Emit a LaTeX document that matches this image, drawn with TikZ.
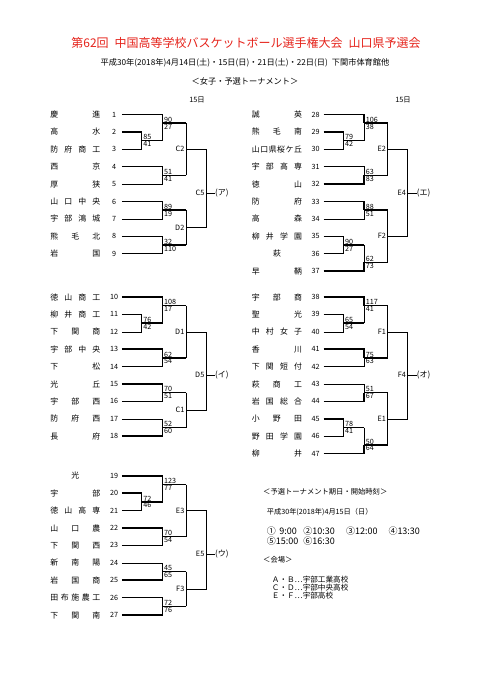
\documentclass[tikz,border=0pt]{standalone}
\usepackage{fontspec}
\setmainfont{Noto Sans CJK JP}
\usepackage{xcolor}
\definecolor{titlered}{HTML}{E5231B}
\usepackage{tikz}
\usetikzlibrary{positioning}
\newcommand{\nm}[1]{\hbox to 50pt{#1}}
\newcommand{\feed}[2]{\draw[win] (#1) -- (#1 -| #2); \draw[lose] (#1 -| #2) -- (#2);}

\begin{document}
\begin{tikzpicture}[x=1pt,y=-1pt,
  tname/.style={font=\fontsize{7.9}{9}\selectfont,inner sep=0pt},
  tnum/.style={font=\fontsize{7.2}{8}\selectfont,inner sep=0pt,minimum width=15.5pt},
  score/.style={font=\fontsize{7.2}{8}\selectfont,inner sep=0.6pt,xshift=0.8pt},
  hi/.style={score,anchor=south west},
  lo/.style={score,anchor=north west},
  mlabel/.style={font=\fontsize{7.3}{8}\selectfont,inner sep=0pt},
  final/.style={font=\fontsize{8}{9}\selectfont,inner sep=0pt},
  info/.style={anchor=west,inner sep=0pt},
  win/.style={line width=1.5pt},
  lose/.style={line width=0.6pt},
  node distance=5.6pt]
\useasboundingbox (0,0) rectangle (481,680);

% header
\node[font=\fontsize{12}{14}\selectfont,text=titlered] (title) at (246,43)
  {第62回\enspace 中国高等学校バスケットボール選手権大会\enspace 山口県予選会};
\node[font=\fontsize{8.2}{10}\selectfont] (dates) at (245,63)
  {平成30年(2018年)4月14日(土)・15日(日)・21日(土)・22日(日)\enspace 下関市体育館他};
\node[font=\fontsize{8.2}{10}\selectfont] (section) at (245,81) {＜女子・予選トーナメント＞};
\node[mlabel] (dayL) at (197,100) {15日};
\node[mlabel] (dayR) at (403,100) {15日};

% block 1-9
\begin{scope}[yshift=-97.1pt,y=-17.4pt]
\node[tnum] (t1) at (114,1) {1};
\node[tnum] (t2) at (114,2) {2};
\node[tnum] (t3) at (114,3) {3};
\node[tnum] (t4) at (114,4) {4};
\node[tnum] (t5) at (114,5) {5};
\node[tnum] (t6) at (114,6) {6};
\node[tnum] (t7) at (114,7) {7};
\node[tnum] (t8) at (114,8) {8};
\node[tnum] (t9) at (114,9) {9};
\node[tname,left=of t1] (n1) {\nm{慶\hfill 進}};
\node[tname,left=of t2] (n2) {\nm{高\hfill 水}};
\node[tname,left=of t3] (n3) {\nm{防\hfill 府\hfill 商\hfill 工}};
\node[tname,left=of t4] (n4) {\nm{西\hfill 京}};
\node[tname,left=of t5] (n5) {\nm{厚\hfill 狭}};
\node[tname,left=of t6] (n6) {\nm{山\hfill 口\hfill 中\hfill 央}};
\node[tname,left=of t7] (n7) {\nm{宇\hfill 部\hfill 鴻\hfill 城}};
\node[tname,left=of t8] (n8) {\nm{熊\hfill 毛\hfill 北}};
\node[tname,left=of t9] (n9) {\nm{岩\hfill 国}};
\coordinate (m23) at (141.7,2.5);
\coordinate (m123) at (162.5,1.5);
\coordinate (m45) at (162.5,4.5);
\coordinate (C2) at (186,3);
\coordinate (m67) at (162.5,6.5);
\coordinate (m89) at (162.5,8.5);
\coordinate (D2) at (186,7.5);
\coordinate (C5) at (206,5.5);
\draw[win] (t2) -| (m23);
\draw[lose] (t3) -| (m23);
\draw[win] (t1) -| (m123);
\feed{m23}{m123}
\draw[win] (t4) -| (m45);
\draw[lose] (t5) -| (m45);
\draw[win] (t6) -| (m67);
\draw[lose] (t7) -| (m67);
\draw[lose] (t8) -| (m89);
\draw[win] (t9) -| (m89);
\feed{m123}{C2}
\feed{m45}{C2}
\feed{m67}{D2}
\feed{m89}{D2}
\draw[lose] (C2) -| (C5);
\draw[lose] (D2) -| (C5);
\node[hi] (s23a) at (m23) {85};
\node[lo] (s23b) at (m23) {41};
\node[hi] (s123a) at (m123) {90};
\node[lo] (s123b) at (m123) {27};
\node[hi] (s45a) at (m45) {51};
\node[lo] (s45b) at (m45) {41};
\node[hi] (s67a) at (m67) {89};
\node[lo] (s67b) at (m67) {19};
\node[hi] (s89a) at (m89) {32};
\node[lo] (s89b) at (m89) {110};
\node[mlabel,left=1.5pt of C2] (lC2) {C2};
\node[mlabel,left=1.5pt of D2] (lD2) {D2};
\node[mlabel,left=1.5pt of C5] (lC5) {C5};
\node[final,right=9pt of C5] (pA) {(ア)};
\draw[lose] (C5) -- (pA);
\end{scope}

% block 10-18
\begin{scope}[yshift=-279.6pt,y=-17.4pt]
\node[tnum] (t10) at (114,1) {10};
\node[tnum] (t11) at (114,2) {11};
\node[tnum] (t12) at (114,3) {12};
\node[tnum] (t13) at (114,4) {13};
\node[tnum] (t14) at (114,5) {14};
\node[tnum] (t15) at (114,6) {15};
\node[tnum] (t16) at (114,7) {16};
\node[tnum] (t17) at (114,8) {17};
\node[tnum] (t18) at (114,9) {18};
\node[tname,left=of t10] (n10) {\nm{徳\hfill 山\hfill 商\hfill 工}};
\node[tname,left=of t11] (n11) {\nm{柳\hfill 井\hfill 商\hfill 工}};
\node[tname,left=of t12] (n12) {\nm{下\hfill 関\hfill 商}};
\node[tname,left=of t13] (n13) {\nm{宇\hfill 部\hfill 中\hfill 央}};
\node[tname,left=of t14] (n14) {\nm{下\hfill 松}};
\node[tname,left=of t15] (n15) {\nm{光\hfill 丘}};
\node[tname,left=of t16] (n16) {\nm{宇\hfill 部\hfill 西}};
\node[tname,left=of t17] (n17) {\nm{防\hfill 府\hfill 西}};
\node[tname,left=of t18] (n18) {\nm{長\hfill 府}};
\coordinate (m1112) at (141.7,2.5);
\coordinate (m1012) at (162.5,1.5);
\coordinate (m1314) at (162.5,4.5);
\coordinate (D1) at (186,3);
\coordinate (m1516) at (162.5,6.5);
\coordinate (m1718) at (162.5,8.5);
\coordinate (C1) at (186,7.5);
\coordinate (D5) at (206,5.5);
\draw[win] (t11) -| (m1112);
\draw[lose] (t12) -| (m1112);
\draw[win] (t10) -| (m1012);
\feed{m1112}{m1012}
\draw[win] (t13) -| (m1314);
\draw[lose] (t14) -| (m1314);
\draw[win] (t15) -| (m1516);
\draw[lose] (t16) -| (m1516);
\draw[lose] (t17) -| (m1718);
\draw[win] (t18) -| (m1718);
\feed{m1012}{D1}
\feed{m1314}{D1}
\feed{m1516}{C1}
\feed{m1718}{C1}
\draw[lose] (D1) -| (D5);
\draw[lose] (C1) -| (D5);
\node[hi] (s1112a) at (m1112) {76};
\node[lo] (s1112b) at (m1112) {42};
\node[hi] (s1012a) at (m1012) {108};
\node[lo] (s1012b) at (m1012) {17};
\node[hi] (s1314a) at (m1314) {62};
\node[lo] (s1314b) at (m1314) {54};
\node[hi] (s1516a) at (m1516) {70};
\node[lo] (s1516b) at (m1516) {51};
\node[hi] (s1718a) at (m1718) {52};
\node[lo] (s1718b) at (m1718) {60};
\node[mlabel,left=1.5pt of D1] (lD1) {D1};
\node[mlabel,left=1.5pt of C1] (lC1) {C1};
\node[mlabel,left=1.5pt of D5] (lD5) {D5};
\node[final,right=9pt of D5] (pI) {(イ)};
\draw[lose] (D5) -- (pI);
\end{scope}

% block 19-27
\begin{scope}[yshift=-458.4pt,y=-17.4pt]
\node[tnum] (t19) at (114,1) {19};
\node[tnum] (t20) at (114,2) {20};
\node[tnum] (t21) at (114,3) {21};
\node[tnum] (t22) at (114,4) {22};
\node[tnum] (t23) at (114,5) {23};
\node[tnum] (t24) at (114,6) {24};
\node[tnum] (t25) at (114,7) {25};
\node[tnum] (t26) at (114,8) {26};
\node[tnum] (t27) at (114,9) {27};
\node[tname,left=of t19] (n19) {\nm{\hfill 光\hfill}};
\node[tname,left=of t20] (n20) {\nm{宇\hfill 部}};
\node[tname,left=of t21] (n21) {\nm{徳\hfill 山\hfill 高\hfill 専}};
\node[tname,left=of t22] (n22) {\nm{山\hfill 口\hfill 農}};
\node[tname,left=of t23] (n23) {\nm{下\hfill 関\hfill 西}};
\node[tname,left=of t24] (n24) {\nm{新\hfill 南\hfill 陽}};
\node[tname,left=of t25] (n25) {\nm{岩\hfill 国\hfill 商}};
\node[tname,left=of t26] (n26) {\nm{田\hfill 布\hfill 施\hfill 農\hfill 工}};
\node[tname,left=of t27] (n27) {\nm{下\hfill 関\hfill 南}};
\coordinate (m2021) at (141.7,2.5);
\coordinate (m1921) at (162.5,1.5);
\coordinate (m2223) at (162.5,4.5);
\coordinate (E3) at (186,3);
\coordinate (m2425) at (162.5,6.5);
\coordinate (m2627) at (162.5,8.5);
\coordinate (F3) at (186,7.5);
\coordinate (E5) at (206,5.5);
\draw[win] (t20) -| (m2021);
\draw[lose] (t21) -| (m2021);
\draw[win] (t19) -| (m1921);
\feed{m2021}{m1921}
\draw[win] (t22) -| (m2223);
\draw[lose] (t23) -| (m2223);
\draw[lose] (t24) -| (m2425);
\draw[win] (t25) -| (m2425);
\draw[lose] (t26) -| (m2627);
\draw[win] (t27) -| (m2627);
\feed{m1921}{E3}
\feed{m2223}{E3}
\feed{m2425}{F3}
\feed{m2627}{F3}
\draw[lose] (E3) -| (E5);
\draw[lose] (F3) -| (E5);
\node[hi] (s2021a) at (m2021) {72};
\node[lo] (s2021b) at (m2021) {46};
\node[hi] (s1921a) at (m1921) {123};
\node[lo] (s1921b) at (m1921) {77};
\node[hi] (s2223a) at (m2223) {70};
\node[lo] (s2223b) at (m2223) {54};
\node[hi] (s2425a) at (m2425) {45};
\node[lo] (s2425b) at (m2425) {65};
\node[hi] (s2627a) at (m2627) {72};
\node[lo] (s2627b) at (m2627) {76};
\node[mlabel,left=1.5pt of E3] (lE3) {E3};
\node[mlabel,left=1.5pt of F3] (lF3) {F3};
\node[mlabel,left=1.5pt of E5] (lE5) {E5};
\node[final,right=9pt of E5] (pU) {(ウ)};
\draw[lose] (E5) -- (pU);
\end{scope}

% block 28-37
\begin{scope}[xshift=201.7pt,yshift=-97.1pt,y=-17.4pt]
\node[tnum] (t28) at (114,1) {28};
\node[tnum] (t29) at (114,2) {29};
\node[tnum] (t30) at (114,3) {30};
\node[tnum] (t31) at (114,4) {31};
\node[tnum] (t32) at (114,5) {32};
\node[tnum] (t33) at (114,6) {33};
\node[tnum] (t34) at (114,7) {34};
\node[tnum] (t35) at (114,8) {35};
\node[tnum] (t36) at (114,9) {36};
\node[tnum] (t37) at (114,10) {37};
\node[tname,left=of t28] (n28) {\nm{誠\hfill 英}};
\node[tname,left=of t29] (n29) {\nm{熊\hfill 毛\hfill 南}};
\node[tname,left=of t30] (n30) {\nm{山\hfill 口\hfill 県\hfill 桜\hfill ケ\hfill 丘}};
\node[tname,left=of t31] (n31) {\nm{宇\hfill 部\hfill 高\hfill 専}};
\node[tname,left=of t32] (n32) {\nm{徳\hfill 山}};
\node[tname,left=of t33] (n33) {\nm{防\hfill 府}};
\node[tname,left=of t34] (n34) {\nm{高\hfill 森}};
\node[tname,left=of t35] (n35) {\nm{柳\hfill 井\hfill 学\hfill 園}};
\node[tname,left=of t36] (n36) {\nm{\hfill 萩\hfill}};
\node[tname,left=of t37] (n37) {\nm{早\hfill 鞆}};
\coordinate (m2930) at (141.7,2.5);
\coordinate (m2830) at (162.5,1.5);
\coordinate (m3132) at (162.5,4.5);
\coordinate (E2) at (186,3);
\coordinate (m3334) at (162.5,6.5);
\coordinate (m3536) at (141.7,8.5);
\coordinate (m3537) at (162.5,9.5);
\coordinate (F2) at (186,8);
\coordinate (E4) at (206,5.5);
\draw[win] (t29) -| (m2930);
\draw[lose] (t30) -| (m2930);
\draw[win] (t28) -| (m2830);
\feed{m2930}{m2830}
\draw[lose] (t31) -| (m3132);
\draw[win] (t32) -| (m3132);
\draw[win] (t33) -| (m3334);
\draw[lose] (t34) -| (m3334);
\draw[win] (t35) -| (m3536);
\draw[lose] (t36) -| (m3536);
\feed{m3536}{m3537}
\draw[win] (t37) -| (m3537);
\feed{m2830}{E2}
\feed{m3132}{E2}
\feed{m3334}{F2}
\feed{m3537}{F2}
\draw[lose] (E2) -| (E4);
\draw[lose] (F2) -| (E4);
\node[hi] (s2930a) at (m2930) {79};
\node[lo] (s2930b) at (m2930) {42};
\node[hi] (s2830a) at (m2830) {106};
\node[lo] (s2830b) at (m2830) {38};
\node[hi] (s3132a) at (m3132) {63};
\node[lo] (s3132b) at (m3132) {83};
\node[hi] (s3334a) at (m3334) {88};
\node[lo] (s3334b) at (m3334) {51};
\node[hi] (s3536a) at (m3536) {90};
\node[lo] (s3536b) at (m3536) {27};
\node[hi] (s3537a) at (m3537) {62};
\node[lo] (s3537b) at (m3537) {73};
\node[mlabel,left=1.5pt of E2] (lE2) {E2};
\node[mlabel,left=1.5pt of F2] (lF2) {F2};
\node[mlabel,left=1.5pt of E4] (lE4) {E4};
\node[final,right=9pt of E4] (pE) {(エ)};
\draw[lose] (E4) -- (pE);
\end{scope}

% block 38-47
\begin{scope}[xshift=201.7pt,yshift=-279.6pt,y=-17.4pt]
\node[tnum] (t38) at (114,1) {38};
\node[tnum] (t39) at (114,2) {39};
\node[tnum] (t40) at (114,3) {40};
\node[tnum] (t41) at (114,4) {41};
\node[tnum] (t42) at (114,5) {42};
\node[tnum] (t43) at (114,6) {43};
\node[tnum] (t44) at (114,7) {44};
\node[tnum] (t45) at (114,8) {45};
\node[tnum] (t46) at (114,9) {46};
\node[tnum] (t47) at (114,10) {47};
\node[tname,left=of t38] (n38) {\nm{宇\hfill 部\hfill 商}};
\node[tname,left=of t39] (n39) {\nm{聖\hfill 光}};
\node[tname,left=of t40] (n40) {\nm{中\hfill 村\hfill 女\hfill 子}};
\node[tname,left=of t41] (n41) {\nm{香\hfill 川}};
\node[tname,left=of t42] (n42) {\nm{下\hfill 関\hfill 短\hfill 付}};
\node[tname,left=of t43] (n43) {\nm{萩\hfill 商\hfill 工}};
\node[tname,left=of t44] (n44) {\nm{岩\hfill 国\hfill 総\hfill 合}};
\node[tname,left=of t45] (n45) {\nm{小\hfill 野\hfill 田}};
\node[tname,left=of t46] (n46) {\nm{野\hfill 田\hfill 学\hfill 園}};
\node[tname,left=of t47] (n47) {\nm{柳\hfill 井}};
\coordinate (m3940) at (141.7,2.5);
\coordinate (m3840) at (162.5,1.5);
\coordinate (m4142) at (162.5,4.5);
\coordinate (F1) at (186,3);
\coordinate (m4344) at (162.5,6.5);
\coordinate (m4546) at (141.7,8.5);
\coordinate (m4547) at (162.5,9.5);
\coordinate (E1) at (186,8);
\coordinate (F4) at (206,5.5);
\draw[win] (t39) -| (m3940);
\draw[lose] (t40) -| (m3940);
\draw[win] (t38) -| (m3840);
\feed{m3940}{m3840}
\draw[win] (t41) -| (m4142);
\draw[lose] (t42) -| (m4142);
\draw[lose] (t43) -| (m4344);
\draw[win] (t44) -| (m4344);
\draw[win] (t45) -| (m4546);
\draw[lose] (t46) -| (m4546);
\feed{m4546}{m4547}
\draw[win] (t47) -| (m4547);
\feed{m3840}{F1}
\feed{m4142}{F1}
\feed{m4344}{E1}
\feed{m4547}{E1}
\draw[lose] (F1) -| (F4);
\draw[lose] (E1) -| (F4);
\node[hi] (s3940a) at (m3940) {65};
\node[lo] (s3940b) at (m3940) {54};
\node[hi] (s3840a) at (m3840) {117};
\node[lo] (s3840b) at (m3840) {41};
\node[hi] (s4142a) at (m4142) {75};
\node[lo] (s4142b) at (m4142) {63};
\node[hi] (s4344a) at (m4344) {51};
\node[lo] (s4344b) at (m4344) {67};
\node[hi] (s4546a) at (m4546) {78};
\node[lo] (s4546b) at (m4546) {41};
\node[hi] (s4547a) at (m4547) {50};
\node[lo] (s4547b) at (m4547) {64};
\node[mlabel,left=1.5pt of F1] (lF1) {F1};
\node[mlabel,left=1.5pt of E1] (lE1) {E1};
\node[mlabel,left=1.5pt of F4] (lF4) {F4};
\node[final,right=9pt of F4] (pO) {(オ)};
\draw[lose] (F4) -- (pO);
\end{scope}

% schedule and venues
\node[info,font=\fontsize{7.3}{8}\selectfont] (sched) at (263,491.7) {＜予選トーナメント期日・開始時刻＞};
\node[info,font=\fontsize{7.2}{8}\selectfont] (day) at (266.7,511.7) {平成30年(2018年)4月15日（日）};
\node[info,font=\fontsize{9}{10}\selectfont] (time1) at (266.7,531)
  {\makebox[36.6pt][l]{①\hspace{3.5pt}9:00}\makebox[42.7pt][l]{②10:30}\makebox[42.3pt][l]{③12:00}④13:30};
\node[info,font=\fontsize{9}{10}\selectfont] (time2) at (266.7,540.7)
  {\makebox[36.6pt][l]{⑤15:00}⑥16:30};
\node[info,font=\fontsize{7.3}{8}\selectfont] (venue) at (263,560) {＜会場＞};
\node[info,font=\fontsize{7.6}{8}\selectfont] (ab) at (271.7,579.3) {Ａ・Ｂ…宇部工業高校};
\node[info,font=\fontsize{7.6}{8}\selectfont] (cd) at (271.7,587.3) {Ｃ・Ｄ…宇部中央高校};
\node[info,font=\fontsize{7.6}{8}\selectfont] (ef) at (271.7,595.3) {Ｅ・Ｆ…宇部高校};
\end{tikzpicture}
\end{document}
